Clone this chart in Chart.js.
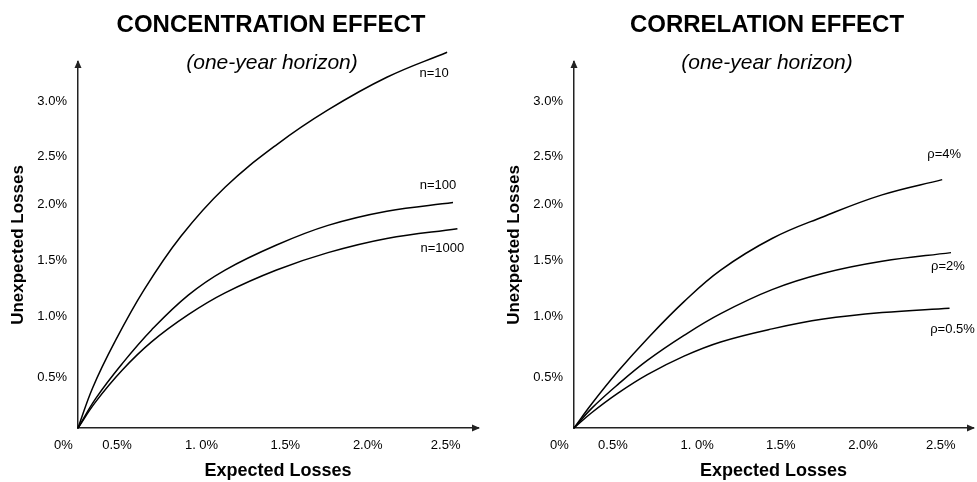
<!DOCTYPE html>
<html>
<head>
<meta charset="utf-8">
<script src="https://cdn.jsdelivr.net/npm/chart.js@4.4.1/dist/chart.umd.min.js"></script>
<style>
  html, body { margin: 0; padding: 0; background: #fff; }
  body { width: 977px; height: 482px; position: relative; overflow: hidden; font-family: Arial, "Liberation Sans", sans-serif; }
  canvas { position: absolute; top: 0; }
  #concentration { left: 0; }
  #correlation { left: 496px; }
  .title { position: absolute; transform: translateX(-50%); white-space: nowrap; color: #000; line-height: 1; }
  .main { font-weight: bold; font-size: 24px; top: 12px; }
  .sub { font-style: italic; font-size: 21px; top: 51px; }
</style>
</head>
<body>
<canvas id="concentration" width="488" height="482"></canvas>
<canvas id="correlation" width="481" height="482"></canvas>
<div class="title main" style="left:271px">CONCENTRATION EFFECT</div>
<div class="title sub" style="left:272px">(one-year horizon)</div>
<div class="title main" style="left:767px">CORRELATION EFFECT</div>
<div class="title sub" style="left:767px">(one-year horizon)</div>

<script>
const FONT = 'Arial, "Liberation Sans", sans-serif';

// tick labels; in the original they sit a little off their nominal values
const xTickPos = [-0.10, 0.265, 0.84, 1.41, 1.97, 2.50];
const xTickLabels = [`0%`, `0.5%`, `1. 0%`, `1.5%`, `2.0%`, `2.5%`];
const yTickPos = [0.46, 1.02, 1.54, 2.05, 2.49, 3.00];
const yTickLabels = [`0.5%`, `1.0%`, `1.5%`, `2.0%`, `2.5%`, `3.0%`];

// concentration effect (expected loss %, unexpected loss %)
const n10EL = [0, 0.10, 0.25, 0.45, 0.70, 1.00, 1.35, 1.70, 2.10, 2.51];
const n10UL = [0, 0.37, 0.79, 1.27, 1.76, 2.21, 2.60, 2.92, 3.22, 3.45];
const n100EL = [0, 0.12, 0.30, 0.50, 0.75, 1.00, 1.35, 1.70, 2.10, 2.55];
const n100UL = [0, 0.27, 0.59, 0.90, 1.22, 1.45, 1.68, 1.86, 1.99, 2.07];
const n1000EL = [0, 0.12, 0.30, 0.50, 0.75, 1.00, 1.35, 1.70, 2.10, 2.58];
const n1000UL = [0, 0.24, 0.53, 0.79, 1.04, 1.24, 1.45, 1.61, 1.74, 1.83];

// correlation effect
const rho4EL = [0, 0.12, 0.30, 0.50, 0.75, 1.00, 1.35, 1.70, 2.10, 2.51];
const rho4UL = [0, 0.22, 0.52, 0.82, 1.16, 1.45, 1.74, 1.94, 2.14, 2.28];
const rho2EL = [0, 0.12, 0.30, 0.50, 0.75, 1.00, 1.35, 1.70, 2.10, 2.57];
const rho2UL = [0, 0.18, 0.40, 0.62, 0.85, 1.05, 1.27, 1.42, 1.53, 1.61];
const rho05EL = [0, 0.12, 0.30, 0.50, 0.75, 1.00, 1.35, 1.70, 2.10, 2.56];
const rho05UL = [0, 0.14, 0.32, 0.49, 0.66, 0.79, 0.91, 1.00, 1.06, 1.10];

const axisArrows = {
  id: `axisArrows`,
  afterDraw(chart) {
    const {ctx, chartArea: {left, right, top, bottom}} = chart;
    ctx.save();
    ctx.fillStyle = `#222`;
    ctx.beginPath();
    ctx.moveTo(left, top - 2);
    ctx.lineTo(left - 3.5, top + 6);
    ctx.lineTo(left + 3.5, top + 6);
    ctx.closePath();
    ctx.fill();
    ctx.beginPath();
    ctx.moveTo(right + 2, bottom);
    ctx.lineTo(right - 6, bottom - 3.5);
    ctx.lineTo(right - 6, bottom + 3.5);
    ctx.closePath();
    ctx.fill();
    ctx.restore();
  }
};

// curve names written next to the end of each curve
const seriesTags = {
  id: `seriesTags`,
  afterDatasetsDraw(chart, args, opts) {
    const {ctx} = chart;
    ctx.save();
    ctx.font = `13px ${FONT}`;
    ctx.fillStyle = `#000`;
    ctx.textAlign = `center`;
    ctx.textBaseline = `middle`;
    chart.data.datasets.forEach((ds, i) => {
      const pts = chart.getDatasetMeta(i).data;
      const last = pts[pts.length - 1];
      const [dx, dy] = opts.offsets[i];
      ctx.fillText(ds.label, last.x + dx, last.y + dy);
    });
    ctx.restore();
  }
};

function buildChart(id, series, offsets, padRight) {
  return new Chart(document.getElementById(id), {
    type: `line`,
    data: {
      datasets: series.map(s => ({
        label: s.label,
        data: s.el.map((x, i) => ({x, y: s.ul[i]})),
        borderColor: `#000`,
        borderWidth: 1.5,
        pointRadius: 0,
        fill: false,
        tension: 0.4,
        clip: false
      }))
    },
    options: {
      responsive: false,
      animation: false,
      devicePixelRatio: 1,
      layout: {padding: {top: 62, right: padRight, left: 0, bottom: 0}},
      plugins: {
        legend: {display: false},
        tooltip: {enabled: false},
        seriesTags: {offsets}
      },
      scales: {
        x: {
          type: `linear`,
          min: 0,
          max: 2.72,
          grid: {display: false, drawTicks: false},
          border: {display: true, color: `#222`, width: 1.5},
          afterBuildTicks: ax => { ax.ticks = xTickPos.map(value => ({value})); },
          afterFit: ax => { ax.height = 54; },
          ticks: {
            autoSkip: false,
            maxRotation: 0,
            padding: 10,
            color: `#000`,
            font: {family: FONT, size: 13},
            callback: (v, i) => xTickLabels[i]
          },
          title: {
            display: true,
            text: `Expected Losses`,
            color: `#000`,
            font: {family: FONT, size: 18, weight: `bold`},
            padding: 0
          }
        },
        y: {
          type: `linear`,
          min: 0,
          max: 3.36,
          grid: {display: false, drawTicks: false},
          border: {display: true, color: `#222`, width: 1.5},
          afterBuildTicks: ax => { ax.ticks = yTickPos.map(value => ({value})); },
          afterFit: ax => { ax.width = 78; },
          ticks: {
            autoSkip: false,
            padding: 11,
            color: `#000`,
            font: {family: FONT, size: 13},
            callback: (v, i) => yTickLabels[i]
          },
          title: {
            display: true,
            text: `Unexpected Losses`,
            color: `#000`,
            font: {family: FONT, size: 17, weight: `bold`},
            padding: {top: 8, bottom: 0}
          }
        }
      }
    },
    plugins: [axisArrows, seriesTags]
  });
}

buildChart(`concentration`, [
  {label: `n=10`, el: n10EL, ul: n10UL},
  {label: `n=100`, el: n100EL, ul: n100UL},
  {label: `n=1000`, el: n1000EL, ul: n1000UL}
], [[-13, 21], [-15, -17], [-15, 20]], 10);

buildChart(`correlation`, [
  {label: `ρ=4%`, el: rho4EL, ul: rho4UL},
  {label: `ρ=2%`, el: rho2EL, ul: rho2UL},
  {label: `ρ=0.5%`, el: rho05EL, ul: rho05UL}
], [[2, -25], [-3, 14], [3, 21]], 4);
</script>
</body>
</html>
